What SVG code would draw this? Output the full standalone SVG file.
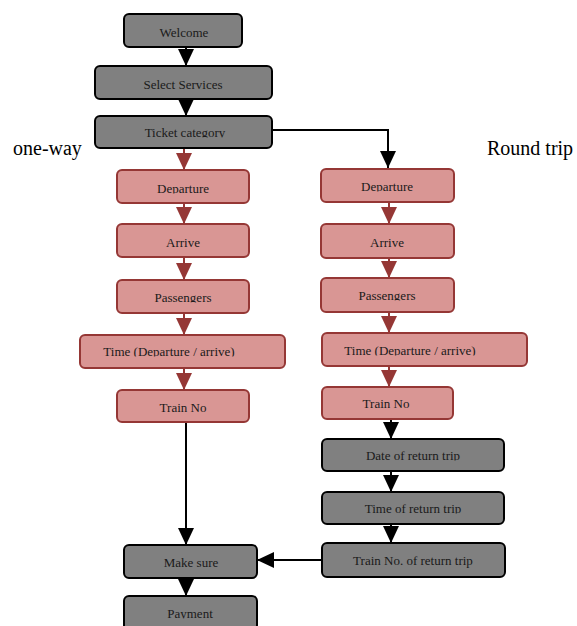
<svg xmlns="http://www.w3.org/2000/svg" width="577" height="626" viewBox="0 0 577 626">
<style>
.g rect{fill:#808080;stroke:#000;stroke-width:2}
.r rect{fill:#D99694;stroke:#953735;stroke-width:2}
text{font-family:"Liberation Serif","Times New Roman",serif;font-size:13px;fill:#1a1a1a;text-anchor:middle}
.side{font-size:20px;text-anchor:start;fill:#000}
.cl{clip-path:url(#cut)}
.k{stroke:#000;stroke-width:2;fill:none;marker-end:url(#ak)}
.d{stroke:#953735;stroke-width:2;fill:none;marker-end:url(#ar)}
</style>
<defs>
<clipPath id="cut" clipPathUnits="objectBoundingBox"><rect x="-0.1" y="-0.2" width="1.2" height="1.03"/></clipPath>
<marker id="ak" markerUnits="userSpaceOnUse" markerWidth="18" markerHeight="17" refX="17" refY="8" orient="auto"><path d="M0,0 L17,8 L0,16 z" fill="#000"/></marker>
<marker id="ar" markerUnits="userSpaceOnUse" markerWidth="18" markerHeight="17" refX="17" refY="8" orient="auto"><path d="M0,0 L17,8 L0,16 z" fill="#953735"/></marker>
</defs>
<rect width="577" height="626" fill="#fff"/>
<g id="connectors">
<path class="k" d="M186,47 V66"/>
<path class="k" d="M186,99 V116"/>
<path class="d" d="M184,148 V170"/>
<path class="k" d="M272,130 H388 V168"/>
<path class="d" d="M184,203 V224"/>
<path class="d" d="M184,257 V280"/>
<path class="d" d="M184,313 V335"/>
<path class="d" d="M184,368 V390"/>
<path class="k" d="M186,422 V545"/>
<path class="k" d="M186,578 V596"/>
<path class="d" d="M389,202 V224"/>
<path class="d" d="M389,258 V278"/>
<path class="d" d="M389,312 V333"/>
<path class="d" d="M389,366 V387"/>
<path class="k" d="M391,419 V439"/>
<path class="k" d="M391,471 V492"/>
<path class="k" d="M391,524 V543"/>
<path class="k" d="M322,560 H257"/>
</g>
<text class="side" x="13" y="155">one-way</text>
<text class="side" x="487" y="155">Round trip</text>
<g id="welcome" class="g"><rect x="124" y="14" width="118" height="33" rx="5"/><text class="cl" x="184" y="37">Welcome</text></g>
<g id="select" class="g"><rect x="95" y="66" width="177" height="33" rx="5"/><text class="cl" x="183" y="89">Select Services</text></g>
<g id="ticket" class="g"><rect x="95" y="116" width="177" height="32" rx="5"/><text class="cl" x="185" y="137">Ticket category</text></g>
<g id="l-departure" class="r"><rect x="117" y="170" width="132" height="33" rx="5"/><text class="cl" x="183" y="193">Departure</text></g>
<g id="l-arrive" class="r"><rect x="117" y="224" width="132" height="33" rx="5"/><text x="183" y="247">Arrive</text></g>
<g id="l-passengers" class="r"><rect x="117" y="280" width="132" height="33" rx="5"/><text class="cl" x="183" y="302">Passengers</text></g>
<g id="l-time" class="r"><rect x="80" y="335" width="205" height="33" rx="5"/><text class="cl" x="169" y="356">Time (Departure / arrive)</text></g>
<g id="l-train" class="r"><rect x="117" y="390" width="132" height="32" rx="5"/><text x="183" y="412">Train No</text></g>
<g id="r-departure" class="r"><rect x="321" y="169" width="133" height="33" rx="5"/><text class="cl" x="387" y="191">Departure</text></g>
<g id="r-arrive" class="r"><rect x="321" y="224" width="133" height="34" rx="5"/><text x="387" y="247">Arrive</text></g>
<g id="r-passengers" class="r"><rect x="321" y="278" width="133" height="34" rx="5"/><text class="cl" x="387" y="300">Passengers</text></g>
<g id="r-time" class="r"><rect x="322" y="333" width="205" height="33" rx="5"/><text class="cl" x="410" y="355">Time (Departure / arrive)</text></g>
<g id="r-train" class="r"><rect x="322" y="387" width="131" height="32" rx="5"/><text class="cl" x="386" y="408">Train No</text></g>
<g id="date-return" class="g"><rect x="322" y="439" width="182" height="32" rx="5"/><text class="cl" x="413" y="460">Date of return trip</text></g>
<g id="time-return" class="g"><rect x="322" y="492" width="182" height="32" rx="5"/><text class="cl" x="413" y="513">Time of return trip</text></g>
<g id="train-return" class="g"><rect x="322" y="543" width="183" height="34" rx="5"/><text x="413" y="565">Train No. of return trip</text></g>
<g id="make-sure" class="g"><rect x="124" y="545" width="133" height="33" rx="5"/><text x="191" y="567">Make sure</text></g>
<g id="payment" class="g"><rect x="124" y="596" width="133" height="34" rx="5"/><text class="cl" x="190" y="618">Payment</text></g>
</svg>
